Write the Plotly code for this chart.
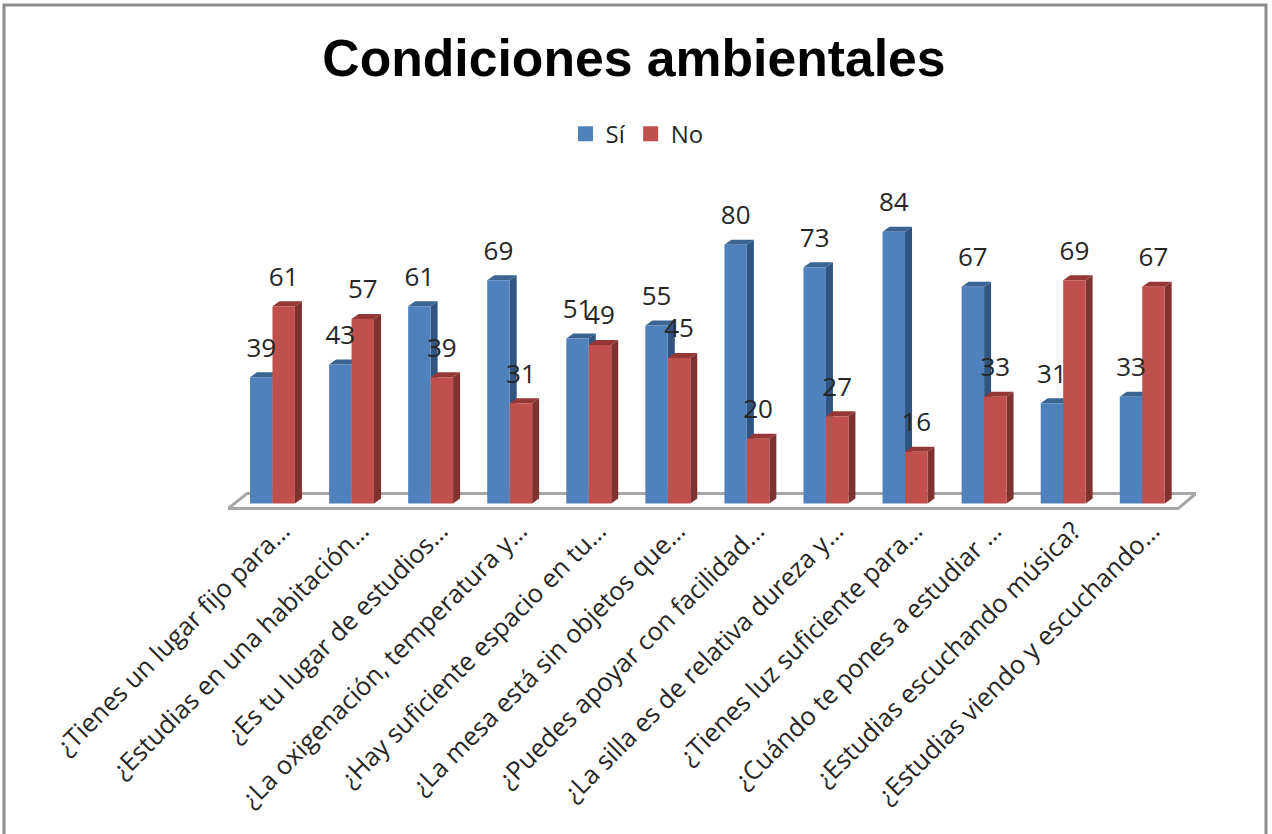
import plotly.graph_objects as go

categories = [
    "¿Tienes un lugar fijo para…",
    "¿Estudias en una habitación…",
    "¿Es tu lugar de estudios…",
    "¿La oxigenación, temperatura y…",
    "¿Hay suficiente espacio en tu…",
    "¿La mesa está sin objetos que…",
    "¿Puedes apoyar con facilidad…",
    "¿La silla es de relativa dureza y…",
    "¿Tienes luz suficiente para…",
    "¿Cuándo te pones a estudiar …",
    "¿Estudias escuchando música?",
    "¿Estudias viendo y escuchando…",
]
si_values = [39, 43, 61, 69, 51, 55, 80, 73, 84, 67, 31, 33]
no_values = [61, 57, 39, 31, 49, 45, 20, 27, 16, 33, 69, 67]

W, H = 1272, 834
M_L, M_R, M_T, M_B = 228, 76, 180, 324
BAR_W = 0.284
DX, DY = 0.0885, 1.55
X_RANGE = [-0.5626, 11.68]
Y_RANGE = [-2, 100]
SI_COLOR, NO_COLOR = "#4F81BD", "#C0504D"


def poly(pts, fill, line=None, width=0):
    path = "M " + " L ".join(f"{x},{y}" for x, y in pts) + " Z"
    return dict(type="path", path=path, xref="x", yref="y", layer="below",
                fillcolor=fill, line=dict(color=line or fill, width=width))


def faces(x0, v, side, top):
    # depth faces of one bar, drawn from the value so they follow the axes
    x1 = x0 + BAR_W
    return [
        poly([(x1, 0), (x1 + DX, DY), (x1 + DX, v + DY), (x1, v)], side),
        poly([(x0, v), (x0 + DX, v + DY), (x1 + DX, v + DY), (x1, v)], top),
    ]


xs = list(range(len(categories)))

fig = go.Figure()
fig.add_trace(go.Bar(x=xs, y=si_values, name="Sí", legendgroup="si", showlegend=False,
                     marker=dict(color=SI_COLOR, line=dict(width=0))))
fig.add_trace(go.Bar(x=xs, y=no_values, name="No", legendgroup="no", showlegend=False,
                     marker=dict(color=NO_COLOR, line=dict(width=0))))

# empty traces only so the legend swatches are as big as in the original
for name, group, color in [("Sí", "si", SI_COLOR), ("No", "no", NO_COLOR)]:
    fig.add_trace(go.Scatter(x=[None], y=[None], mode="markers", name=name, legendgroup=group,
                             marker=dict(symbol="square", size=15, color=color)))

label_style = dict(family="Open Sans", size=26, color="#262626")
fig.add_trace(go.Scatter(x=[i - BAR_W / 2 for i in xs], y=[v + 8.4 for v in si_values],
                         mode="text", text=si_values, textfont=label_style,
                         showlegend=False, cliponaxis=False))
fig.add_trace(go.Scatter(x=[i + BAR_W / 2 for i in xs], y=[v + 8.4 for v in no_values],
                         mode="text", text=no_values, textfont=label_style,
                         showlegend=False, cliponaxis=False))

# floor under the bars
shapes = [poly([(-0.5626, -1.55), (-0.3224, 3.1), (11.68, 3.1), (11.4526, -1.55)],
               "#FFFFFF", "#A6A6A6", 3)]
for i in xs:
    shapes += faces(i - BAR_W, si_values[i], "#2F5580", "#3A6491")
    shapes += faces(i, no_values[i], "#7F3230", "#953735")

# outer chart frame, it runs off the bottom of the picture
plot_w = W - M_L - M_R
plot_h = H - M_T - M_B
fx0 = (4 - M_L) / plot_w
fx1 = (1266 - M_L) / plot_w
fy = 1 + (M_T - 5) / plot_h
shapes.append(dict(type="path", xref="paper", yref="paper",
                   path=f"M {fx0},-1 L {fx0},{fy} L {fx1},{fy} L {fx1},-1",
                   line=dict(color="#8C8C8C", width=3)))

fig.update_layout(
    width=W,
    height=H,
    margin=dict(l=M_L, r=M_R, t=M_T, b=M_B),
    paper_bgcolor="white",
    plot_bgcolor="rgba(0,0,0,0)",
    barmode="group",
    bargap=0.432,
    bargroupgap=0,
    shapes=shapes,
    title=dict(text="<b>Condiciones ambientales</b>", x=0.4194, xref="paper", xanchor="center",
               y=0.93, yanchor="middle", font=dict(family="Liberation Sans", size=51.7, color="black")),
    legend=dict(orientation="h", x=0.4225, xanchor="center", y=1.139, yanchor="middle",
                font=dict(family="Open Sans", size=24, color="#262626"), bgcolor="rgba(0,0,0,0)"),
    xaxis=dict(range=X_RANGE, tickmode="array", tickvals=xs, ticktext=categories, tickangle=-45,
               showgrid=False, zeroline=False, showline=False, ticks="", ticklabelshift=10,
               tickfont=dict(family="Open Sans", size=25.5, color="#262626")),
    yaxis=dict(range=Y_RANGE, visible=False),
)

fig.write_html("out.html", config={"displayModeBar": False},
               post_script="document.body.style.margin='0';")
